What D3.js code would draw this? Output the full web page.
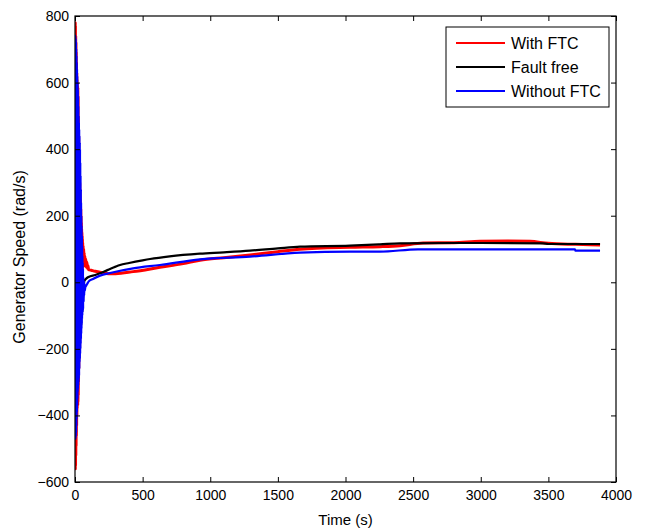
<!DOCTYPE html>
<html>
<head>
<meta charset="utf-8">
<script src="https://cdn.jsdelivr.net/npm/d3@7"></script>
<style>
  body { margin: 0; background: #fff; }
  text { font-family: "Liberation Sans", Arial, sans-serif; fill: #000; }
</style>
</head>
<body>
<svg width="646" height="531"></svg>
<script>
// ---- data ----
// [time (s), generator speed (rad/s)]
var withFtc = [[0,-100],[0.5,780],[1,-560],[1.5,780],[2,-560],[3,770],[4,-550],[5,740],[6,-520],
  [7,720],[8,-490],[9,690],[10,-460],[11,660],[12,-430],[13,630],[14,-400],[15,610],[16,-380],
  [17,600],[18,-370],[19,590],[20,-370],[21,585],[22,-360],[23,560],[24,-340],[25,500],[26,-300],
  [27,440],[28,-260],[29,380],[30,-230],[31,340],[32,-220],[33,320],[34,-200],[35,300],[36,-170],
  [37,280],[38,-140],[39,250],[40,-110],[41,240],[42,-80],[43,220],[44,-50],[45,200],[46,-20],
  [47,180],[48,0],[49,160],[50,20],[51,150],[52,30],[53,140],[54,40],[55,130],[56,45],[57,120],
  [58,50],[60,110],[62,50],[64,100],[66,50],[68,90],[70,50],[73,80],[76,48],[80,70],[84,45],
  [88,60],[92,42],[96,50],[100,38],[120,36],[150,33],[185,30],[250,26],[300,26],[430,32],
  [628,45],[800,56],[924,66],[1100,74],[1294,82],[1500,92],[1664,99],[2033,105],[2255,107],
  [2403,110],[2573,118],[2800,119],[2995,123],[3200,124],[3364,123],[3500,117],[3700,114],[3882,112]];

var faultFree = [[0,0],[0.5,450],[1,-440],[2,440],[3,-430],[4,400],[5,-400],[6,380],[7,-380],
  [8,350],[9,-350],[10,320],[11,-330],[12,300],[13,-300],[14,280],[15,-280],[16,260],[17,-260],
  [18,240],[19,-240],[20,220],[22,-220],[24,200],[26,-200],[28,180],[30,-180],[32,160],[34,-160],
  [36,150],[38,-150],[40,140],[42,-140],[44,130],[46,-130],[48,100],[50,-110],[52,60],[54,-90],
  [56,20],[58,-60],[60,-44],[63,-20],[66,-5],[70,5],[80,10],[100,16],[150,22],[185,27],[220,33],
  [259,40],[300,47],[333,52],[400,58],[500,66],[555,70],[700,78],[924,86],[1100,90],[1294,95],
  [1500,102],[1664,107],[2033,110],[2255,114],[2403,117],[2800,118],[3000,118],[3460,117],
  [3500,115],[3882,115]];

var withoutFtc = [[0,0],[0.5,740],[1,-470],[1.5,740],[2,-470],[3,735],[4,-465],[5,730],[6,-460],
  [7,720],[8,-450],[9,700],[10,-430],[11,680],[12,-410],[13,660],[14,-390],[15,640],[16,-370],
  [17,620],[18,-350],[19,600],[20,-330],[21,580],[22,-320],[23,560],[24,-310],[25,530],[26,-300],
  [27,500],[28,-290],[29,480],[30,-280],[31,460],[32,-260],[33,440],[34,-240],[35,420],[36,-230],
  [37,400],[38,-215],[39,360],[40,-200],[41,320],[42,-185],[43,280],[44,-170],[45,240],[46,-155],
  [47,200],[48,-140],[49,170],[50,-125],[51,140],[52,-110],[53,110],[54,-100],[55,80],[56,-90],
  [57,60],[58,-85],[59,40],[60,-80],[62,16],[64,-60],[66,5],[68,-40],[70,-5],[73,-25],[76,-15],
  [80,-12],[90,-5],[100,2],[133,10],[185,20],[259,28],[430,42],[628,52],[924,69],[1294,77],
  [1664,89],[2033,92],[2255,92],[2536,99],[3697,99],[3700,95],[3882,95]];

var series = [
  {name: "With FTC", data: withFtc, color: "#ff0000", width: 3},
  {name: "Fault free", data: faultFree, color: "#000000", width: 2.2},
  {name: "Without FTC", data: withoutFtc, color: "#0000ff", width: 2.2}
];

var xTicks = [0,500,1000,1500,2000,2500,3000,3500,4000];
var yTicks = [-600,-400,-200,0,200,400,600,800];

// ---- layout ----
var svg = d3.select("svg");
var pLeft = 75, pRight = 616, pTop = 16, pBottom = 482;

var x = d3.scaleLinear().domain([0,4000]).range([pLeft,pRight]);
var y = d3.scaleLinear().domain([-600,800]).range([pBottom,pTop]);

svg.append("clipPath").attr("id","plotclip")
  .append("rect").attr("x",pLeft).attr("y",pTop).attr("width",pRight-pLeft).attr("height",pBottom-pTop);

var line = d3.line()
  .x(function(d){return x(d[0]);})
  .y(function(d){return y(d[1]);})
  .curve(d3.curveMonotoneX);

var plot = svg.append("g").attr("clip-path","url(#plotclip)");
series.forEach(function(s){
  plot.append("path")
    .datum(s.data)
    .attr("d",line)
    .attr("fill","none")
    .attr("stroke",s.color)
    .attr("stroke-width",s.width)
    .attr("stroke-linejoin","round");
});

// axes (ticks inside, matlab style)
var axB = svg.append("g").attr("transform","translate(0,"+pBottom+")")
  .call(d3.axisBottom(x).tickValues(xTicks).tickSize(-5).tickPadding(8).tickFormat(d3.format("d")));
var axT = svg.append("g").attr("transform","translate(0,"+pTop+")")
  .call(d3.axisTop(x).tickValues(xTicks).tickSize(-5).tickFormat(""));
var axL = svg.append("g").attr("transform","translate("+pLeft+",0)")
  .call(d3.axisLeft(y).tickValues(yTicks).tickSize(-5).tickPadding(6).tickFormat(d3.format("d")));
var axR = svg.append("g").attr("transform","translate("+pRight+",0)")
  .call(d3.axisRight(y).tickValues(yTicks).tickSize(-5).tickFormat(""));

[axB,axT,axL,axR].forEach(function(a){
  a.select(".domain").remove();
  a.selectAll(".tick line").attr("stroke","#000");
  a.selectAll("text").style("font-size","14px").style("font-family","'Liberation Sans', Arial, sans-serif");
});

svg.append("rect").attr("x",pLeft).attr("y",pTop).attr("width",pRight-pLeft).attr("height",pBottom-pTop)
  .attr("fill","none").attr("stroke","#000").attr("stroke-width",1.2);

// axis labels
svg.append("text").attr("x",(pLeft+pRight)/2).attr("y",525).attr("text-anchor","middle")
  .style("font-size","15px").text("Time (s)");
svg.append("text").attr("transform","translate(25,"+((pTop+pBottom)/2+8)+") rotate(-90)")
  .attr("text-anchor","middle").style("font-size","16px").text("Generator Speed (rad/s)");

// legend
var lg = svg.append("g").attr("transform","translate(446,27)");
lg.append("rect").attr("width",163).attr("height",80).attr("fill","#fff").attr("stroke","#000").attr("stroke-width",1);
series.forEach(function(s,i){
  var yy = 16 + i*24;
  lg.append("line").attr("x1",10).attr("x2",59).attr("y1",yy).attr("y2",yy)
    .attr("stroke",s.color).attr("stroke-width",2.2);
  lg.append("text").attr("x",65).attr("y",yy).attr("dy","0.36em")
    .style("font-size","16px").text(s.name);
});
</script>
</body>
</html>
